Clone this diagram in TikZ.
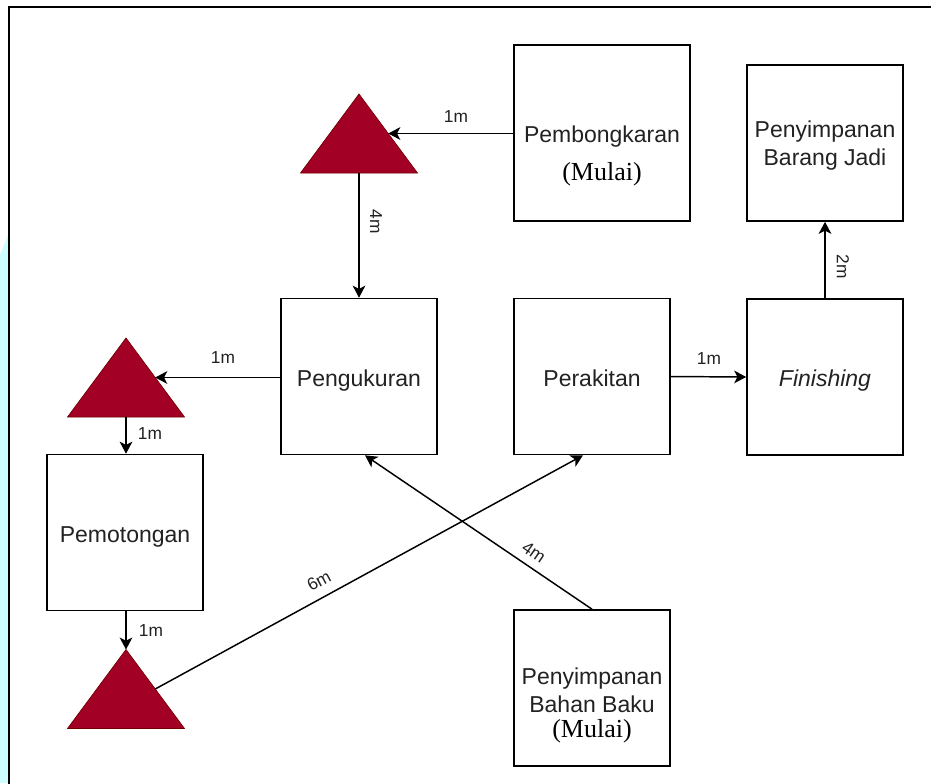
\documentclass[tikz,border=0pt]{standalone}
\usepackage{fontspec}
\setmainfont{Liberation Sans}
\newfontfamily\serifmul{Liberation Serif}
\usetikzlibrary{arrows.meta,calc}
\definecolor{trifill}{HTML}{A20025}
\definecolor{triedge}{HTML}{6F0000}
\definecolor{txtgray}{HTML}{222222}
\definecolor{cyanbg}{HTML}{CCFFFF}
\tikzset{
  box/.style={draw=black, line width=1.2pt, minimum width=117pt, minimum height=117pt,
    inner sep=0pt, align=center, text=txtgray, font=\fontsize{17.25}{21}\selectfont,
    text height=14.5pt, text depth=0pt},
  emptybox/.style={draw=black, line width=1.2pt, minimum width=117pt, minimum height=117pt,
    inner sep=0pt},
  bigbox/.style={box, minimum width=132pt, minimum height=132pt},
  plain/.style={inner sep=0pt, align=center, text=txtgray, font=\fontsize{17.25}{21}\selectfont},
  mulai/.style={inner sep=0pt, text=black, font=\serifmul\fontsize{19.5}{21}\selectfont},
  lbl/.style={inner sep=0pt, text=txtgray, font=\fontsize{13}{15}\selectfont},
  arr/.style={draw=black, line width=1.1pt, -{Stealth[length=9pt, width=9.5pt, inset=2.4pt]}},
  triangle/.pic={
    \filldraw[fill=trifill, draw=triedge, line width=0.5pt]
      (0,-39.5) -- (58.5,39.5) -- (-58.5,39.5) -- cycle;
    \coordinate (-apex) at (0,-39.5);
    \coordinate (-base) at (0,39.5);
    \coordinate (-right) at (29.25,0);
  }
}
\begin{document}
\begin{tikzpicture}[x=0.75pt, y=-0.75pt]
\useasboundingbox (0,0) rectangle (931,783);
\clip (0,0) rectangle (931,783);
\fill[white] (0,0) rectangle (931,783);
\fill[cyanbg] (0,255) -- (8,235) -- (8,783) -- (0,783) -- cycle;
\draw[line width=1.5pt, fill=white] (8.5,6.5) rectangle (960,810);

% boxes
\node[bigbox] (pemb) at (602,133) {Pembongkaran};
\node[mulai] (pembm) at (602,174) {(Mulai)};
\node[emptybox] (pbj) at (825,143) {};
\node[plain] (pbjt) at (825,145.5) {Penyimpanan\\Barang Jadi};
\node[box] (pen) at (359,376.5) {Pengukuran};
\node[box] (per) at (592,376.5) {Perakitan};
\node[box] (fin) at (825,377) {\itshape Finishing};
\node[box] (pot) at (125,532.5) {Pemotongan};
\node[emptybox] (pbb) at (592,688) {};
\node[plain] (pbbt) at (592,690) {Penyimpanan\\Bahan Baku};
\node[mulai] (pbbm) at (592,731) {(Mulai)};

% triangles
\pic (ta) at (359,133.5) {triangle};
\pic (tb) at (126,377.5) {triangle};
\pic (tc) at (126,689) {triangle};

% connectors
\draw[arr] (ta-right -| pemb.west) -- (ta-right);
\draw[arr] (ta-base) -- (pen.north);
\draw[arr] (tb-right -| pen.west) -- (tb-right);
\draw[arr] (tb-base) -- (tb-base |- pot.north);
\draw[arr] (pot.south -| tc-apex) -- (tc-apex);
\draw[arr] (tc-right) -- ([xshift=-6.75pt]per.south);
\draw[arr] (pbb.north) -- ([xshift=4.5pt]pen.south);
\draw[arr] (per.east) -- (fin.west);
\draw[arr] (fin.north) -- (pbj.south);

% labels
\node[lbl] (l1) at (456,117) {1m};
\node[lbl, rotate=-90] (l2) at (376,222) {4m};
\node[lbl] (l3) at (223,358) {1m};
\node[lbl] (l4) at (150,434) {1m};
\node[lbl] (l5) at (151,631) {1m};
\node[lbl] (l6) at (709,359) {1m};
\node[lbl, rotate=-90] (l7) at (843,267) {2m};
\node[lbl, rotate=28.2] (l8) at (319,581) {6m};
\node[lbl, rotate=-34.6] (l9) at (534,552) {4m};
\end{tikzpicture}
\end{document}
